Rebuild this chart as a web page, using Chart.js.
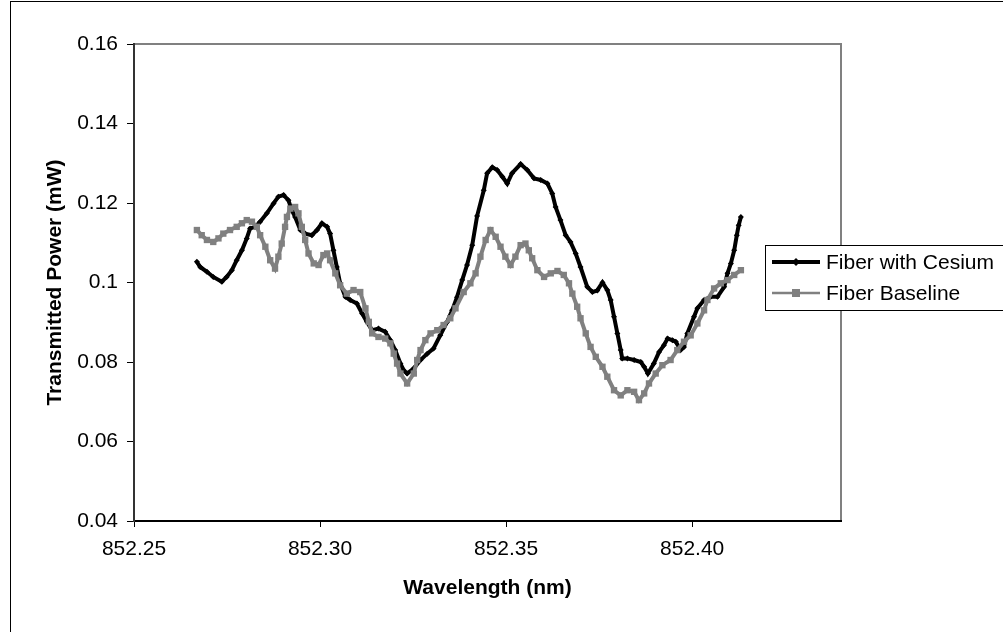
<!DOCTYPE html>
<html>
<head>
<meta charset="utf-8">
<script src="https://cdn.jsdelivr.net/npm/chart.js@4.4.0/dist/chart.umd.min.js"></script>
<style>
  html, body { margin: 0; padding: 0; background: #fff; }
  #wrap { position: relative; width: 1003px; height: 632px; overflow: hidden; }
</style>
</head>
<body>
<div id="wrap"><canvas id="spectrum-chart" width="1003" height="632"></canvas></div>
<script>
// Serie 1: fibra con cesio
const wavelengthCs = [852.2669, 852.2678, 852.2696, 852.2713, 852.2736, 852.2749, 852.2763, 852.2776, 852.2790, 852.2803,
  852.2812, 852.2826, 852.2839, 852.2857, 852.2875, 852.2888, 852.2902, 852.2915, 852.2924, 852.2933,
  852.2947, 852.2960, 852.2978, 852.2992, 852.3005, 852.3019, 852.3027, 852.3036, 852.3045, 852.3054,
  852.3068, 852.3081, 852.3099, 852.3113, 852.3126, 852.3140, 852.3157, 852.3175, 852.3189, 852.3202,
  852.3216, 852.3225, 852.3234, 852.3252, 852.3270, 852.3288, 852.3305, 852.3323, 852.3341, 852.3355,
  852.3368, 852.3382, 852.3395, 852.3409, 852.3422, 852.3440, 852.3449, 852.3463, 852.3476, 852.3490,
  852.3503, 852.3516, 852.3539, 852.3557, 852.3575, 852.3593, 852.3611, 852.3624, 852.3633, 852.3646,
  852.3660, 852.3673, 852.3687, 852.3700, 852.3718, 852.3732, 852.3745, 852.3759, 852.3772, 852.3781,
  852.3790, 852.3799, 852.3808, 852.3812, 852.3826, 852.3844, 852.3862, 852.3871, 852.3881, 852.3897,
  852.3911, 852.3924, 852.3934, 852.3947, 852.3956, 852.3969, 852.3978, 852.3987, 852.4005, 852.4014,
  852.4032, 852.4050, 852.4068, 852.4086, 852.4095, 852.4104, 852.4113, 852.4120, 852.4125, 852.4131];
const powerCs = [0.1052, 0.1039, 0.1027, 0.1014, 0.1002, 0.1014, 0.1031, 0.1056, 0.1081, 0.1111,
  0.1136, 0.1140, 0.1153, 0.1174, 0.1199, 0.1216, 0.1220, 0.1207, 0.1182, 0.1165,
  0.1132, 0.1123, 0.1119, 0.1132, 0.1149, 0.1140, 0.1123, 0.1081, 0.1039, 0.0998,
  0.0964, 0.0956, 0.0947, 0.0922, 0.0901, 0.0880, 0.0884, 0.0876, 0.0855, 0.0830,
  0.0796, 0.0779, 0.0771, 0.0784, 0.0805, 0.0821, 0.0834, 0.0867, 0.0900, 0.0930,
  0.0963, 0.1006, 0.1044, 0.1094, 0.1167, 0.1232, 0.1275, 0.1290, 0.1283, 0.1266,
  0.1249, 0.1275, 0.1298, 0.1283, 0.1262, 0.1258, 0.1249, 0.1224, 0.1190, 0.1157,
  0.1119, 0.1102, 0.1073, 0.1039, 0.0989, 0.0976, 0.0980, 0.1000, 0.0981, 0.0956,
  0.0914, 0.0872, 0.0830, 0.0809, 0.0809, 0.0805, 0.0800, 0.0788, 0.0771, 0.0796,
  0.0825, 0.0842, 0.0859, 0.0855, 0.0851, 0.0830, 0.0838, 0.0872, 0.0914, 0.0935,
  0.0956, 0.0964, 0.0964, 0.0989, 0.1023, 0.1048, 0.1081, 0.1119, 0.1144, 0.1165];

// Serie 2: línea base de la fibra
const wavelengthBase = [852.2669, 852.2682, 852.2696, 852.2713, 852.2727, 852.2740, 852.2758, 852.2776, 852.2790, 852.2803,
  852.2817, 852.2830, 852.2839, 852.2853, 852.2866, 852.2879, 852.2888, 852.2897, 852.2906, 852.2911,
  852.2920, 852.2933, 852.2942, 852.2951, 852.2960, 852.2969, 852.2983, 852.2996, 852.3009, 852.3019,
  852.3027, 852.3041, 852.3054, 852.3072, 852.3090, 852.3108, 852.3122, 852.3131, 852.3140, 852.3157,
  852.3175, 852.3189, 852.3198, 852.3207, 852.3216, 852.3234, 852.3252, 852.3261, 852.3270, 852.3283,
  852.3297, 852.3315, 852.3332, 852.3350, 852.3364, 852.3386, 852.3404, 852.3418, 852.3431, 852.3445,
  852.3458, 852.3472, 852.3485, 852.3498, 852.3512, 852.3525, 852.3539, 852.3552, 852.3561, 852.3570,
  852.3584, 852.3602, 852.3620, 852.3638, 852.3655, 852.3669, 852.3678, 852.3691, 852.3700, 852.3714,
  852.3727, 852.3741, 852.3759, 852.3772, 852.3790, 852.3808, 852.3826, 852.3844, 852.3857, 852.3871,
  852.3884, 852.3902, 852.3920, 852.3942, 852.3960, 852.3978, 852.3996, 852.4014, 852.4032, 852.4041,
  852.4059, 852.4077, 852.4095, 852.4113, 852.4131];
const powerBase = [0.1132, 0.1119, 0.1107, 0.1102, 0.1111, 0.1123, 0.1132, 0.1140, 0.1149, 0.1157,
  0.1153, 0.1140, 0.1119, 0.1090, 0.1056, 0.1035, 0.1065, 0.1098, 0.1140, 0.1165,
  0.1186, 0.1190, 0.1174, 0.1140, 0.1107, 0.1073, 0.1048, 0.1044, 0.1069, 0.1073,
  0.1056, 0.1023, 0.0993, 0.0972, 0.0981, 0.0976, 0.0935, 0.0901, 0.0872, 0.0863,
  0.0859, 0.0847, 0.0821, 0.0796, 0.0771, 0.0746, 0.0771, 0.0805, 0.0830, 0.0855,
  0.0872, 0.0880, 0.0893, 0.0910, 0.0935, 0.0976, 0.0998, 0.1023, 0.1065, 0.1107,
  0.1132, 0.1115, 0.1090, 0.1065, 0.1044, 0.1065, 0.1094, 0.1098, 0.1081, 0.1061,
  0.1031, 0.1014, 0.1023, 0.1029, 0.1019, 0.0998, 0.0972, 0.0939, 0.0910, 0.0872,
  0.0838, 0.0813, 0.0788, 0.0763, 0.0729, 0.0716, 0.0729, 0.0725, 0.0704, 0.0721,
  0.0746, 0.0771, 0.0792, 0.0805, 0.0830, 0.0851, 0.0867, 0.0897, 0.0930, 0.0956,
  0.0985, 0.0998, 0.1006, 0.1019, 0.1031];

const seriesNames = ['Fiber with Cesium', 'Fiber Baseline'];
const xTicks = [852.25, 852.30, 852.35, 852.40];
const yTicks = [0.04, 0.06, 0.08, 0.10, 0.12, 0.14, 0.16];
const xRange = [852.25, 852.44];
const yRange = [0.04, 0.16];

const toPoints = (xs, ys) => xs.map((x, i) => ({ x: x, y: ys[i] }));

Chart.defaults.font.family = '"Liberation Sans", Arial, sans-serif';
Chart.defaults.font.size = 21;
Chart.defaults.color = '#000';

// Marco exterior, borde gris del área de trazado y leyenda con caja
const excelFrame = {
  id: 'excelFrame',
  beforeDraw(chart) {
    const ctx = chart.ctx;
    ctx.save();
    ctx.fillStyle = '#fff';
    ctx.fillRect(0, 0, chart.width, chart.height);
    ctx.strokeStyle = '#000';
    ctx.lineWidth = 1;
    ctx.strokeRect(10.5, 1.5, 1100, 700);
    const a = chart.chartArea;
    ctx.strokeStyle = '#808080';
    ctx.lineWidth = 2;
    ctx.beginPath();
    ctx.moveTo(a.left, a.top);
    ctx.lineTo(a.right, a.top);
    ctx.lineTo(a.right, a.bottom);
    ctx.stroke();
    ctx.restore();
  },
  afterDraw(chart) {
    const ctx = chart.ctx;
    const boxX = 765.5, boxY = 245.5, rowY = [262, 293];
    ctx.save();
    ctx.fillStyle = '#fff';
    ctx.fillRect(boxX, boxY, 250, 65);
    ctx.strokeStyle = '#000';
    ctx.lineWidth = 1;
    ctx.strokeRect(boxX, boxY, 250, 65);
    chart.data.datasets.forEach((ds, i) => {
      const y = rowY[i];
      ctx.strokeStyle = ds.borderColor;
      ctx.lineWidth = i === 0 ? 4 : 2.5;
      ctx.beginPath();
      ctx.moveTo(772, y);
      ctx.lineTo(820, y);
      ctx.stroke();
      ctx.fillStyle = ds.pointBackgroundColor;
      if (ds.pointStyle === 'rect') {
        ctx.fillRect(792, y - 4, 8, 8);
      } else {
        ctx.beginPath();
        ctx.moveTo(796, y - 4); ctx.lineTo(800, y); ctx.lineTo(796, y + 4); ctx.lineTo(792, y);
        ctx.closePath();
        ctx.fill();
      }
      ctx.fillStyle = '#000';
      ctx.font = '21px "Liberation Sans", Arial, sans-serif';
      ctx.textBaseline = 'middle';
      ctx.fillText(ds.label, 826, y + 1);
    });
    ctx.restore();
  }
};

const ctx = document.getElementById('spectrum-chart').getContext('2d');

new Chart(ctx, {
  type: 'line',
  data: {
    datasets: [{
      label: seriesNames[0],
      data: toPoints(wavelengthCs, powerCs),
      borderColor: '#000',
      borderWidth: 4,
      pointStyle: 'rectRot',
      pointRadius: 3,
      pointBorderWidth: 0,
      pointBackgroundColor: '#000',
      order: 1
    }, {
      label: seriesNames[1],
      data: toPoints(wavelengthBase, powerBase),
      borderColor: '#808080',
      borderWidth: 4,
      pointStyle: 'rect',
      pointRadius: 4.5,
      pointBorderWidth: 0,
      pointBackgroundColor: '#808080',
      order: 0
    }]
  },
  options: {
    responsive: false,
    animation: false,
    devicePixelRatio: 1,
    layout: { padding: { left: 0, top: 44, right: 162, bottom: 0 } },
    plugins: {
      legend: { display: false },
      tooltip: { enabled: false }
    },
    elements: { line: { tension: 0 } },
    scales: {
      x: {
        type: 'linear',
        min: xRange[0],
        max: xRange[1],
        afterBuildTicks: scale => { scale.ticks = xTicks.map(v => ({ value: v })); },
        afterFit: scale => { scale.height = 111; },
        ticks: {
          autoSkip: false,
          maxRotation: 0,
          padding: 10,
          callback: v => v.toFixed(2)
        },
        grid: { display: true, drawOnChartArea: false, drawTicks: true, tickLength: 6, color: '#000', lineWidth: 1 },
        border: { display: true, color: '#000', width: 2 },
        title: {
          display: true,
          text: 'Wavelength (nm)',
          font: { weight: 'bold', size: 21 },
          padding: { top: 0, bottom: 31 }
        }
      },
      y: {
        min: yRange[0],
        max: yRange[1],
        afterBuildTicks: scale => { scale.ticks = yTicks.map(v => ({ value: v })); },
        afterFit: scale => { scale.width = 134; },
        ticks: {
          padding: 9,
          callback: v => String(parseFloat(v.toFixed(2)))
        },
        grid: { display: true, drawOnChartArea: false, drawTicks: true, tickLength: 7, color: '#000', lineWidth: 1 },
        border: { display: true, color: '#333', width: 2 },
        title: {
          display: true,
          text: 'Transmitted Power (mW)',
          font: { weight: 'bold', size: 21 },
          padding: { top: 43, bottom: 0 }
        }
      }
    }
  },
  plugins: [excelFrame]
});
</script>
</body>
</html>
